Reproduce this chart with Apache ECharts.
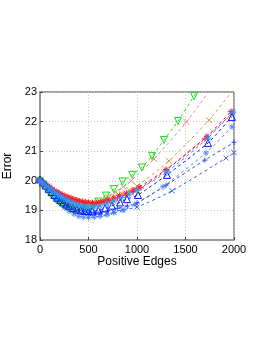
<!DOCTYPE html>
<html><head><meta charset="utf-8">
<script src="https://cdn.jsdelivr.net/npm/echarts@6/dist/echarts.min.js"></script>
<style>html,body{margin:0;padding:0;background:#fff}#c{width:266px;height:344px}</style>
</head><body><div id="c"></div>
<script>
const xTicks = [0, 500, 1000, 1500, 2000];
const yTicks = [18, 19, 20, 21, 22, 23];

const redStarX = [0,20,40,60,80,100,125,150,175,200,230,260,290,320,350,380,410,440,470,500,540,580,620,660,700,760,820,890,960,1020,1300,1720,1970];
const redStarY = [20.0,19.98,19.93,19.88,19.83,19.78,19.72,19.67,19.62,19.58,19.53,19.49,19.45,19.42,19.38,19.35,19.32,19.3,19.28,19.27,19.26,19.26,19.28,19.31,19.35,19.42,19.5,19.58,19.68,19.78,20.38,21.5,22.34];

const redPlusX = [0,30,60,90,120,150,180,210,250,290,330,370,410,450,500,550,600,660,720,800,880,960,1040,1290,1700,1980];
const redPlusY = [20.02,19.95,19.88,19.8,19.73,19.66,19.6,19.54,19.47,19.41,19.36,19.32,19.28,19.25,19.23,19.22,19.23,19.27,19.33,19.42,19.52,19.63,19.76,20.33,21.42,22.28];

const orangeX = [0,40,80,120,160,200,250,300,350,400,450,500,560,620,690,760,840,920,1000,1330,1742,2010];
const orangeY = [20.0,19.9,19.8,19.7,19.61,19.53,19.44,19.36,19.29,19.24,19.21,19.2,19.22,19.27,19.36,19.46,19.58,19.68,19.82,20.67,22.05,23.15];

const salmonX = [0,40,80,120,160,200,250,300,350,400,450,500,560,620,700,780,860,940,1175,1510,1780];
const salmonY = [20.0,19.88,19.76,19.65,19.55,19.46,19.37,19.29,19.23,19.19,19.17,19.18,19.22,19.3,19.45,19.62,19.8,20.0,20.74,21.99,23.2];

const greenX = [0,30,60,90,120,150,180,210,240,270,300,340,380,420,460,500,550,600,680,760,850,950,1050,1155,1278,1423,1588,1650];
const greenY = [20.0,19.88,19.75,19.63,19.52,19.42,19.34,19.26,19.2,19.14,19.1,19.05,19.02,19.0,19.01,19.05,19.15,19.3,19.5,19.72,19.98,20.2,20.45,20.84,21.38,22.02,22.86,23.12];

const triX = [0,30,60,90,120,150,180,210,240,270,300,340,380,420,460,500,536,600,670,742,825,897,1010,1309,1732,1979];
const triY = [20.05,19.95,19.84,19.73,19.62,19.52,19.43,19.35,19.27,19.2,19.14,19.08,19.03,19.0,18.98,18.97,18.97,19.0,19.07,19.16,19.27,19.38,19.52,20.2,21.28,22.16];

const dodgerX = [0,30,60,90,120,150,180,210,240,270,300,340,380,420,460,500,560,620,690,760,840,920,1000,1309,1732,1990];
const dodgerY = [20.0,19.93,19.85,19.77,19.69,19.61,19.54,19.47,19.41,19.36,19.31,19.25,19.2,19.16,19.13,19.12,19.12,19.15,19.22,19.31,19.43,19.55,19.68,20.3,21.45,22.32];

const midBlueX = [0,40,80,120,160,200,250,300,350,400,450,500,560,620,700,800,900,1000,1300,1700,2000];
const midBlueY = [20.0,19.87,19.74,19.62,19.5,19.4,19.28,19.17,19.08,19.01,18.96,18.93,18.92,18.94,18.99,19.07,19.15,19.25,19.85,20.7,21.3];

const lowXX = [0,40,80,120,160,200,250,300,350,400,450,500,560,620,690,760,850,1000,1361,1918,2000];
const lowXY = [20.0,19.85,19.7,19.56,19.43,19.32,19.2,19.1,19.02,18.96,18.92,18.89,18.87,18.87,18.9,18.95,19.02,19.11,19.66,20.77,20.95];

const lightStarX = [0,40,80,120,160,200,250,300,350,400,450,500,560,620,690,760,856,979,1268,1711,1979];
const lightStarY = [20.0,19.82,19.65,19.5,19.36,19.23,19.1,18.98,18.88,18.8,18.77,18.76,18.77,18.8,18.85,18.92,19.0,19.2,19.8,20.94,21.82];

const SYM = {
  star: 'path://M5,0L5,10M0,5L10,5M1.5,1.5L8.5,8.5M8.5,1.5L1.5,8.5',
  cross: 'path://M0,0L10,10M10,0L0,10',
  plus: 'path://M5,0L5,10M0,5L10,5',
  up: 'path://M5,0L10,9L0,9Z',
  down: 'path://M0,0L10,0L5,9Z'
};

function zip(xs, ys){ return xs.map((x,i)=>[x, ys[i]]); }
function mk(name, xs, ys, color, sym, size){
  return {
    name, type:'line', data: zip(xs, ys), symbol: SYM[sym], symbolSize: size,
    showAllSymbol: true, animation:false, smooth:0.2,
    lineStyle:{color, width:1, type:[3,3]},
    itemStyle:{color:'transparent', borderColor:color, borderWidth:1}
  };
}

const series = [
  mk('lightStar', lightStarX, lightStarY, '#5b8ff7', 'star', 6),
  mk('lowX', lowXX, lowXY, '#3a66f0', 'cross', 5),
  mk('midBlue', midBlueX, midBlueY, '#2a4cff', 'plus', 5),
  mk('salmon', salmonX, salmonY, '#e08a86', 'cross', 6),
  mk('orange', orangeX, orangeY, '#e09a3c', 'cross', 6),
  mk('green', greenX, greenY, '#18e018', 'down', 7),
  mk('redPlus', redPlusX, redPlusY, '#ff2a6a', 'plus', 6),
  mk('red', redStarX, redStarY, '#ff1a1a', 'star', 6),
  mk('tri', triX, triY, '#0a14ff', 'up', 7),
  mk('dodger', dodgerX, dodgerY, '#2b95ff', 'star', 7)
];

const font = 'Liberation Sans, Arial, sans-serif';
const chart = echarts.init(document.getElementById('c'), null, {renderer:'canvas'});
chart.setOption({
  backgroundColor:'#fff',
  animation:false,
  grid:{left:40, top:92, width:194, height:148, containLabel:false, outerBoundsMode:'none', show:true, borderColor:'#444', borderWidth:1, backgroundColor:'transparent'},
  xAxis:{
    type:'value', min:xTicks[0], max:xTicks[xTicks.length-1], interval:500,
    name:'Positive Edges', nameLocation:'middle', nameGap:16,
    nameTextStyle:{fontFamily:font, fontSize:12, color:'#000'},
    axisLine:{show:true, lineStyle:{color:'#999', width:2}},
    axisTick:{show:true, inside:true, length:3, lineStyle:{color:'#444'}},
    axisLabel:{fontFamily:font, fontSize:11, color:'#000', margin:4, formatter:(v)=>String(v)},
    splitLine:{show:true, lineStyle:{color:'#c8c8c8', type:[1,2], width:1}}
  },
  yAxis:{
    type:'value', min:yTicks[0], max:yTicks[yTicks.length-1], interval:1,
    name:'Error', nameLocation:'middle', nameGap:20, nameRotate:90,
    nameTextStyle:{fontFamily:font, fontSize:12, color:'#000'},
    axisLine:{show:true, lineStyle:{color:'#999', width:2}},
    axisTick:{show:true, inside:true, length:3, lineStyle:{color:'#444'}},
    axisLabel:{fontFamily:font, fontSize:11, color:'#000', margin:3, formatter:(v)=>String(v)},
    splitLine:{show:true, lineStyle:{color:'#c8c8c8', type:[1,2], width:1}}
  },
  series
});
</script></body></html>
